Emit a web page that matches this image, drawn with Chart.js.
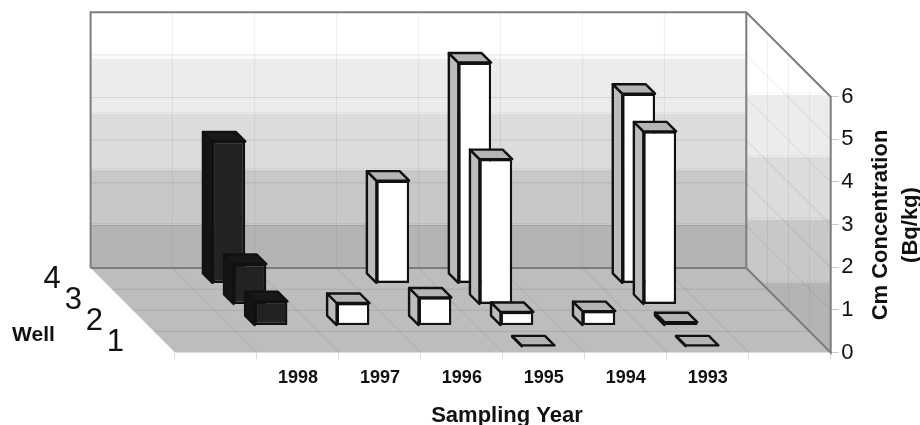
<!DOCTYPE html>
<html>
<head>
<meta charset="utf-8">
<title>Cm Concentration</title>
<script src="https://cdn.jsdelivr.net/npm/chart.js@4/dist/chart.umd.min.js"></script>
<style>
  body { margin: 0; background: #fff; overflow: hidden; }
</style>
</head>
<body>
<canvas id="barChart" width="920" height="425"></canvas>
<script>
// blank categories at both ends keep the empty floor cells of the original
const years = ["", "1998", "1997", "1996", "1995", "1994", "1993", ""];
const yTicks = [0, 1, 2, 3, 4, 5, 6];
const wells = ["1", "2", "3", "4"];

const well1 = [null, null, null, null, 0.03, null, 0.03, null];
const well2 = [null, 0.57, 0.53, 0.66, 0.32, 0.34, 0.08, null];
const well3 = [null, 0.95, null, null, 3.41, null, 4.06, null];
const well4 = [null, 3.33, null, 2.41, 5.18, null, 4.45, null];

const FONT = "'Liberation Sans', Arial, sans-serif";
const DEPTH = 84.4;      // how far the floor runs back, in px
const BAR_DEPTH = 9.5;
const rowDepth = DEPTH / wells.length;

const backBands = ["#ffffff", "#ececec", "#dcdcdc", "#c8c8c8", "#b4b4b4"];
const backEdges = [12.7, 59, 114, 170, 225, 268.1];
const sideEdges = [12.7, 95, 157, 220, 283, 352.5];

function isDarkYear(i) {
  return years[i] === "1998";
}

function line(ctx, x1, y1, x2, y2) {
  ctx.beginPath();
  ctx.moveTo(x1, y1);
  ctx.lineTo(x2, y2);
  ctx.stroke();
}

function poly(ctx, pts) {
  ctx.beginPath();
  pts.forEach((p, i) => (i ? ctx.lineTo(p[0], p[1]) : ctx.moveTo(p[0], p[1])));
  ctx.closePath();
}

const wallsPlugin = {
  id: "walls",
  beforeDatasetsDraw(chart) {
    const ctx = chart.ctx;
    const { left, right, top, bottom } = chart.chartArea;
    const y = chart.scales.y;
    const backL = left - DEPTH;
    const backR = right - DEPTH;
    const floorY = bottom - DEPTH;
    const topY = y.getPixelForValue(6) - DEPTH;
    const step = (right - left) / years.length;

    ctx.save();

    // back wall bands
    backBands.forEach((c, i) => {
      ctx.fillStyle = c;
      ctx.fillRect(backL, backEdges[i], backR - backL, backEdges[i + 1] - backEdges[i]);
      if (i > 0) {
        ctx.strokeStyle = c;
        ctx.lineWidth = 1;
        ctx.setLineDash([2, 2]);
        line(ctx, backL, backEdges[i] - 1.5, backR, backEdges[i] - 1.5);
        ctx.setLineDash([]);
      }
    });

    // side wall bands, these stay level and get cut by the wall outline
    ctx.save();
    poly(ctx, [[backR, topY], [right, top], [right, bottom], [backR, floorY]]);
    ctx.clip();
    backBands.forEach((c, i) => {
      ctx.fillStyle = c;
      ctx.fillRect(backR, sideEdges[i], right - backR, sideEdges[i + 1] - sideEdges[i]);
      if (i > 0) {
        ctx.strokeStyle = c;
        ctx.lineWidth = 1;
        ctx.setLineDash([2, 2]);
        line(ctx, backR, sideEdges[i] - 1.5, right, sideEdges[i] - 1.5);
        ctx.setLineDash([]);
      }
    });
    ctx.restore();

    // floor
    ctx.fillStyle = "#bdbdbd";
    poly(ctx, [[backL, floorY], [backR, floorY], [right, bottom], [left, bottom]]);
    ctx.fill();

    // grid on the walls
    ctx.lineWidth = 1;
    ctx.strokeStyle = "rgba(0,0,0,0.06)";
    for (let i = 1; i < years.length; i++) {
      const gx = left + i * step - DEPTH;
      line(ctx, gx, topY, gx, floorY);
    }
    for (let i = 1; i < wells.length; i++) {
      const gx = backR + i * rowDepth;
      line(ctx, gx, topY + i * rowDepth, gx, floorY + i * rowDepth);
    }
    ctx.strokeStyle = "rgba(0,0,0,0.1)";
    yTicks.slice(1, -1).forEach((v) => {
      const py = y.getPixelForValue(v);
      line(ctx, backL, py - DEPTH, backR, py - DEPTH);
      line(ctx, backR, py - DEPTH, right, py);
    });

    // grid on the floor
    ctx.strokeStyle = "rgba(0,0,0,0.1)";
    for (let i = 1; i < years.length; i++) {
      const gx = left + i * step;
      line(ctx, gx, bottom, gx - DEPTH, floorY);
    }
    for (let i = 1; i < wells.length; i++) {
      const d = i * rowDepth;
      line(ctx, left - d, bottom - d, right - d, bottom - d);
    }

    // wall outline
    ctx.strokeStyle = "#7d7d7d";
    ctx.lineWidth = 2;
    ctx.beginPath();
    ctx.moveTo(backL, floorY);
    ctx.lineTo(backL, topY);
    ctx.lineTo(backR, topY);
    ctx.lineTo(right, top);
    ctx.lineTo(right, bottom);
    ctx.lineTo(backR, floorY);
    ctx.lineTo(backL, floorY);
    ctx.moveTo(backR, topY);
    ctx.lineTo(backR, floorY);
    ctx.stroke();

    ctx.restore();
  },
  beforeDatasetDraw(chart, args) {
    const ctx = chart.ctx;
    const row = args.index + 0.5;
    const shift = -row * rowDepth + BAR_DEPTH / 2;

    ctx.save();
    ctx.translate(shift, shift);
    ctx.lineWidth = 2.4;
    ctx.strokeStyle = "#111";
    ctx.lineJoin = "round";
    args.meta.data.forEach((bar, i) => {
      if (chart.data.datasets[args.index].data[i] === null) return;
      const l = bar.x - bar.width / 2;
      const r = bar.x + bar.width / 2;
      const dark = isDarkYear(i);
      // left face
      ctx.fillStyle = dark ? "#141414" : "#bcbcbc";
      poly(ctx, [[l, bar.y], [l, bar.base], [l - BAR_DEPTH, bar.base - BAR_DEPTH], [l - BAR_DEPTH, bar.y - BAR_DEPTH]]);
      ctx.fill();
      ctx.stroke();
      // top face
      ctx.fillStyle = dark ? "#181818" : "#b4b4b4";
      poly(ctx, [[l, bar.y], [r, bar.y], [r - BAR_DEPTH, bar.y - BAR_DEPTH], [l - BAR_DEPTH, bar.y - BAR_DEPTH]]);
      ctx.fill();
      ctx.stroke();
    });
  },
  afterDatasetDraw(chart) {
    chart.ctx.restore();
  },
  afterDraw(chart) {
    const ctx = chart.ctx;
    const { left, bottom } = chart.chartArea;

    ctx.save();
    ctx.fillStyle = "#111";
    ctx.textAlign = "center";
    ctx.textBaseline = "middle";

    // well numbers sit along the left floor edge
    ctx.font = "31px " + FONT;
    wells.forEach((w, i) => {
      const d = (i + 0.5) * rowDepth;
      ctx.fillText(w, left - d - 49, bottom - d + 1);
    });

    ctx.font = "bold 21px " + FONT;
    ctx.fillText("Well", 33.5, 335);

    // native title is centred on the plot, the original sits a bit right of that
    ctx.font = "bold 22px " + FONT;
    ctx.fillText("Sampling Year", 507, 416);

    // chart.js turns right hand titles the other way, so do this one here
    ctx.translate(881, 225);
    ctx.rotate(-Math.PI / 2);
    ctx.fillText("Cm Concentration", 0, 0);
    ctx.fillText("(Bq/kg)", 0, 29.5);
    ctx.restore();
  },
};

function wellDataset(label, values) {
  return {
    label: label,
    data: values,
    backgroundColor: (c) => (isDarkYear(c.dataIndex) ? "#222222" : "#ffffff"),
    borderColor: "#111",
    borderWidth: 2.4,
    borderSkipped: false,
    clip: false,
    grouped: false,
    barPercentage: 0.4,
    categoryPercentage: 1,
  };
}

new Chart(document.getElementById("barChart"), {
  type: "bar",
  data: {
    labels: years,
    // first dataset is painted last, so the front well goes first
    datasets: [
      wellDataset("1", well1),
      wellDataset("2", well2),
      wellDataset("3", well3),
      wellDataset("4", well4),
    ],
  },
  options: {
    responsive: false,
    animation: false,
    layout: { padding: { left: 175, top: 96.7 } },
    plugins: { legend: { display: false }, tooltip: { enabled: false } },
    scales: {
      x: {
        afterFit: (s) => { s.height = 72.5; },
        border: { display: false },
        grid: { drawOnChartArea: false, color: "#dddddd", tickLength: 7 },
        ticks: {
          color: "#111",
          font: { family: FONT, size: 18, weight: "bold" },
          padding: 8,
          maxRotation: 0,
          autoSkip: false,
        },
      },
      y: {
        position: "right",
        min: 0,
        max: 6,
        afterFit: (s) => { s.width = 89.3; },
        afterBuildTicks: (s) => { s.ticks = yTicks.map((v) => ({ value: v })); },
        border: { display: false },
        grid: { drawOnChartArea: false, color: "#c8c8c8", tickLength: 8 },
        ticks: {
          color: "#111",
          font: { family: FONT, size: 22 },
          padding: 2.5,
        },
      },
    },
  },
  plugins: [wallsPlugin],
});
</script>
</body>
</html>
